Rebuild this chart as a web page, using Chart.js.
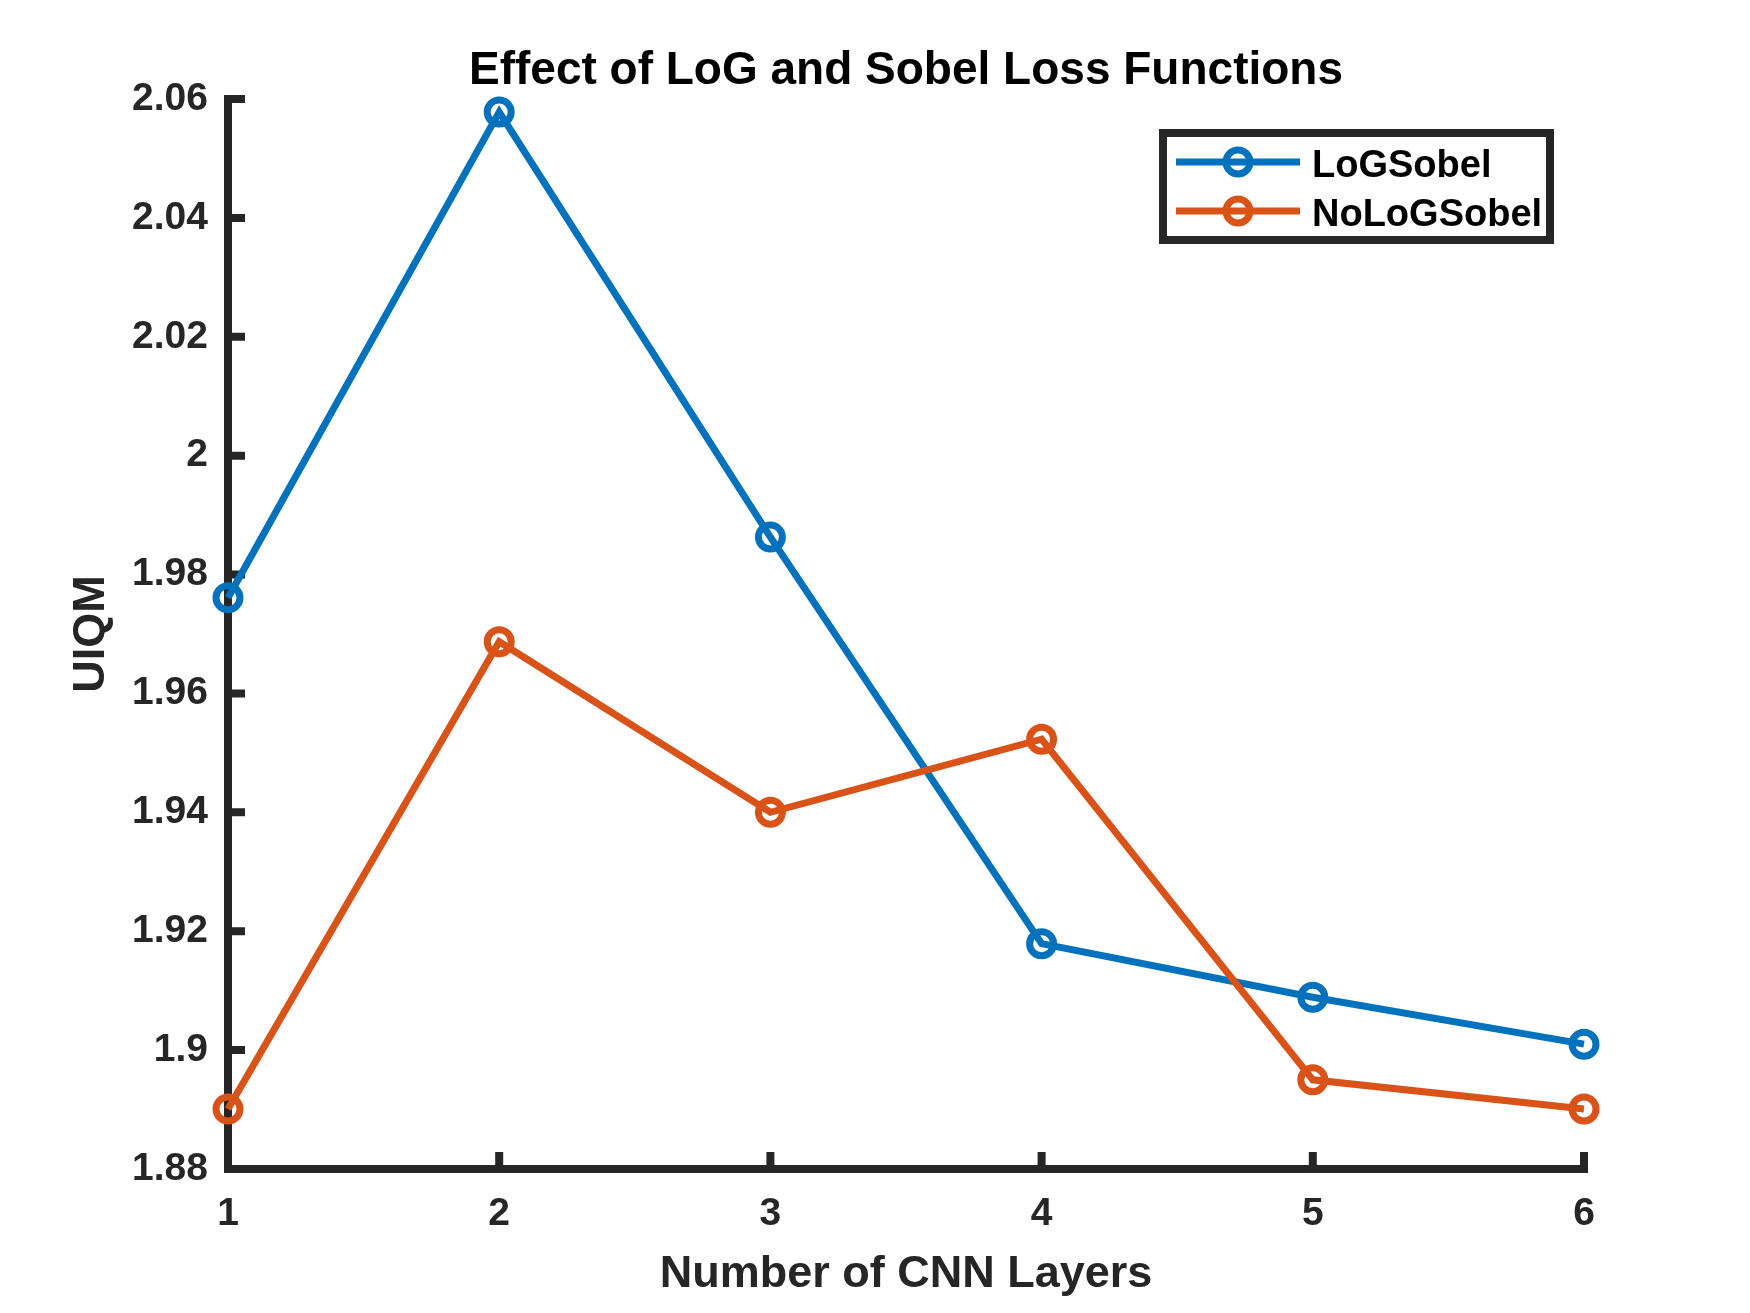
<!DOCTYPE html>
<html>
<head>
<meta charset="utf-8">
<script src="https://cdn.jsdelivr.net/npm/chart.js@4.4.1/dist/chart.umd.min.js"></script>
<style>
  html, body { margin: 0; padding: 0; background: #ffffff; }
  #wrap { width: 1750px; height: 1313px; }
</style>
</head>
<body>
<div id="wrap"><canvas id="uiqmChart" width="1750" height="1313"></canvas></div>
<script>
// values
const layers = [1, 2, 3, 4, 5, 6];
const logSobel = [1.9761, 2.0578, 1.9863, 1.9179, 1.9089, 1.9010];
const noLogSobel = [1.8901, 1.9687, 1.9400, 1.9523, 1.8950, 1.8901];
const seriesNames = ["LoGSobel", "NoLoGSobel"];
const yTicks = [1.88, 1.90, 1.92, 1.94, 1.96, 1.98, 2.00, 2.02, 2.04, 2.06];

const FONT = "'Liberation Sans', Arial, Helvetica, sans-serif";
const AXIS_COLOR = "#262626";
const BLUE = "#0072BD";
const ORANGE = "#D95319";

// MATLAB-style axes: square corner, inward ticks, title and boxed legend
const matlabLook = {
    id: "matlabLook",
    beforeDatasetsDraw(chart) {
        const { ctx, chartArea: a, scales: { x, y } } = chart;
        ctx.save();
        ctx.strokeStyle = AXIS_COLOR;
        ctx.lineWidth = 8;
        ctx.lineCap = "square";
        ctx.lineJoin = "miter";
        ctx.beginPath();
        ctx.moveTo(a.left, a.top);
        ctx.lineTo(a.left, a.bottom);
        ctx.lineTo(a.right, a.bottom);
        ctx.stroke();

        ctx.lineCap = "butt";
        ctx.beginPath();
        y.ticks.forEach(t => {
            const py = y.getPixelForValue(t.value);
            ctx.moveTo(a.left, py);
            ctx.lineTo(a.left + 17, py);
        });
        x.ticks.forEach(t => {
            const px = x.getPixelForValue(t.value);
            ctx.moveTo(px, a.bottom);
            ctx.lineTo(px, a.bottom - 17);
        });
        ctx.stroke();
        ctx.restore();
    },
    afterDraw(chart) {
        const { ctx, chartArea: a } = chart;
        ctx.save();

        // title
        ctx.fillStyle = "#000000";
        ctx.font = "bold 46px " + FONT;
        ctx.textAlign = "center";
        ctx.textBaseline = "alphabetic";
        ctx.fillText("Effect of LoG and Sobel Loss Functions", (a.left + a.right) / 2, 84);

        // legend box
        ctx.fillStyle = "#ffffff";
        ctx.fillRect(1163, 133, 387, 107);
        ctx.strokeStyle = AXIS_COLOR;
        ctx.lineWidth = 8;
        ctx.strokeRect(1163, 133, 387, 107);

        const rows = [162, 211];
        chart.data.datasets.forEach((ds, i) => {
            const cy = rows[i];
            ctx.strokeStyle = ds.borderColor;
            ctx.lineWidth = 7;
            ctx.beginPath();
            ctx.moveTo(1176, cy);
            ctx.lineTo(1300, cy);
            ctx.stroke();
            ctx.beginPath();
            ctx.arc(1238, cy, 12, 0, Math.PI * 2);
            ctx.stroke();

            ctx.fillStyle = "#000000";
            ctx.font = "bold 38px " + FONT;
            ctx.textAlign = "left";
            ctx.textBaseline = "alphabetic";
            ctx.fillText(ds.label, 1312, cy + 15);
        });
        ctx.restore();
    }
};

function makeSeries(values) {
    return layers.map((x, i) => ({ x: x, y: values[i] }));
}

const lineStyle = {
    borderWidth: 7,
    pointRadius: 12,
    pointHoverRadius: 12,
    pointBorderWidth: 7,
    pointBackgroundColor: "rgba(0,0,0,0)",
    tension: 0,
    clip: false,
    fill: false
};

new Chart(document.getElementById("uiqmChart").getContext("2d"), {
    type: "line",
    data: {
        datasets: [
            Object.assign({
                label: seriesNames[0],
                data: makeSeries(logSobel),
                borderColor: BLUE,
                pointBorderColor: BLUE,
                order: 1
            }, lineStyle),
            Object.assign({
                label: seriesNames[1],
                data: makeSeries(noLogSobel),
                borderColor: ORANGE,
                pointBorderColor: ORANGE,
                order: 0
            }, lineStyle)
        ]
    },
    options: {
        responsive: false,
        devicePixelRatio: 1,
        animation: false,
        events: [],
        layout: {
            padding: { top: 99, right: 166, left: 0, bottom: 0 }
        },
        plugins: {
            legend: { display: false },
            title: { display: false },
            tooltip: { enabled: false }
        },
        scales: {
            x: {
                type: "linear",
                min: 1,
                max: 6,
                afterFit: s => { s.height = 144; },
                grid: { display: false, drawTicks: false },
                border: { display: false },
                ticks: {
                    stepSize: 1,
                    padding: 22,
                    color: AXIS_COLOR,
                    font: { family: FONT, size: 39, weight: "bold" }
                },
                title: {
                    display: true,
                    text: "Number of CNN Layers",
                    color: AXIS_COLOR,
                    font: { family: FONT, size: 45, weight: "bold" },
                    padding: { top: 0, bottom: 11 }
                }
            },
            y: {
                min: 1.88,
                max: 2.06,
                afterFit: s => { s.width = 228; },
                afterBuildTicks: s => { s.ticks = yTicks.map(v => ({ value: v })); },
                grid: { display: false, drawTicks: false },
                border: { display: false },
                ticks: {
                    padding: 20,
                    color: AXIS_COLOR,
                    font: { family: FONT, size: 39, weight: "bold" },
                    callback: v => String(parseFloat(v.toFixed(2)))
                },
                title: {
                    display: true,
                    text: "UIQM",
                    color: AXIS_COLOR,
                    font: { family: FONT, size: 45, weight: "bold" },
                    padding: { top: 65, bottom: 0 }
                }
            }
        }
    },
    plugins: [matlabLook]
});
</script>
</body>
</html>
